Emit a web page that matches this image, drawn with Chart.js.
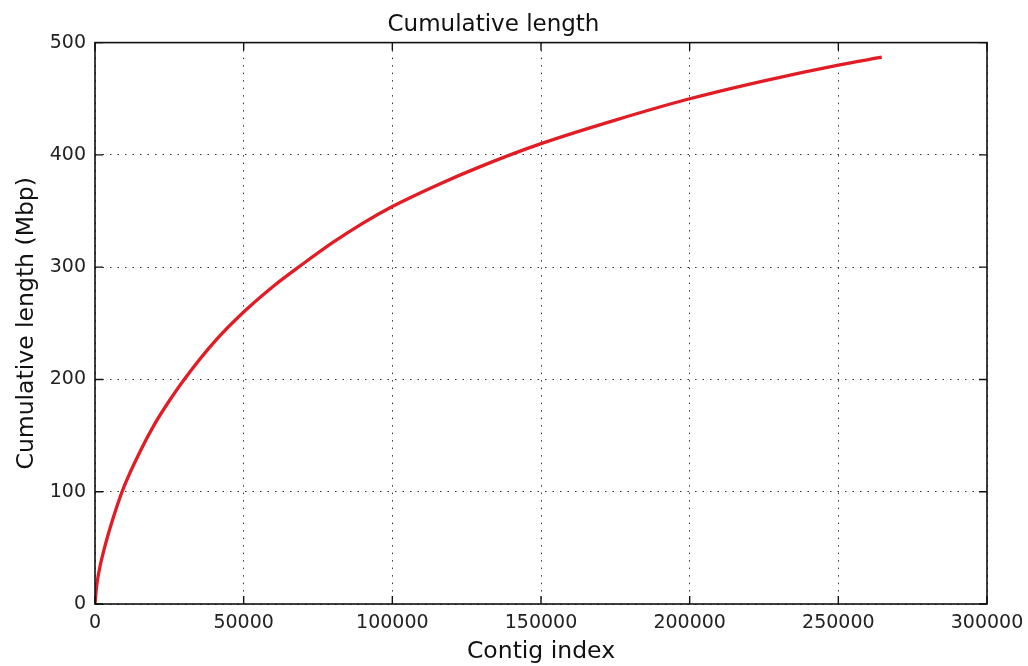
<!DOCTYPE html>
<html>
<head>
<meta charset="utf-8">
<title>Cumulative length</title>
<script src="https://cdn.jsdelivr.net/npm/chart.js@4.4.1/dist/chart.umd.min.js"></script>
<style>
  body { margin: 0; background: #fff; }
  #wrap { width: 1028px; height: 666px; }
</style>
</head>
<body>
<div id="wrap"><canvas id="chart" width="1028" height="666"></canvas></div>
<script>
// contig index (sorted by length) vs. cumulative assembly length in Mbp
const contigIndex = [0, 500, 1500, 3000, 5000, 7500, 10000, 15000, 20000, 25000, 30000, 40000, 50000,
  60000, 70000, 80000, 90000, 100000, 115000, 130000, 150000, 175000, 200000, 225000, 250000, 264600];
const cumulativeMbp = [0, 15, 31, 48, 67, 88, 106, 135, 160, 181, 200, 233, 260,
  283, 303, 322, 339, 354, 373, 390, 410, 431, 450, 466, 480, 487];
const xTicks = [0, 50000, 100000, 150000, 200000, 250000, 300000];
const yTicks = [0, 100, 200, 300, 400, 500];

const points = contigIndex.map(function (x, i) {
  return { x: x, y: cumulativeMbp[i] };
});

const tickFont = { family: "DejaVu Sans", size: 19 };
const labelFont = { family: "DejaVu Sans", size: 23.5 };

// black frame with inward tick marks on all four sides
const frame = {
  id: "frame",
  afterDraw: function (chart) {
    const ctx = chart.ctx;
    const a = chart.chartArea;
    const xs = chart.scales.x;
    const ys = chart.scales.y;
    const len = 8;
    ctx.save();
    ctx.strokeStyle = "#111";
    ctx.lineWidth = 1.4;
    ctx.beginPath();
    xTicks.forEach(function (v) {
      const px = xs.getPixelForValue(v);
      ctx.moveTo(px, a.bottom);
      ctx.lineTo(px, a.bottom - len);
      ctx.moveTo(px, a.top);
      ctx.lineTo(px, a.top + len);
    });
    yTicks.forEach(function (v) {
      const py = ys.getPixelForValue(v);
      ctx.moveTo(a.left, py);
      ctx.lineTo(a.left + len, py);
      ctx.moveTo(a.right, py);
      ctx.lineTo(a.right - len, py);
    });
    ctx.stroke();
    ctx.lineWidth = 1.6;
    ctx.strokeRect(a.left, a.top, a.right - a.left, a.bottom - a.top);
    ctx.restore();
  }
};

const ctx = document.getElementById("chart").getContext("2d");
const chart = new Chart(ctx, {
  type: "line",
  data: {
    datasets: [
      {
        label: "Cumulative length",
        data: points,
        borderColor: "rgb(225, 28, 36)",
        borderWidth: 3.3,
        pointRadius: 0,
        fill: false,
        cubicInterpolationMode: "monotone"
      }
    ]
  },
  options: {
    responsive: false,
    animation: false,
    layout: { padding: { left: 0, right: 41, top: 0, bottom: 0 } },
    plugins: {
      legend: { display: false },
      tooltip: { enabled: false },
      title: {
        display: true,
        text: "Cumulative length",
        color: "#111",
        font: { family: "DejaVu Sans", size: 23, weight: "normal" },
        padding: { top: 11, bottom: 4 }
      }
    },
    scales: {
      x: {
        type: "linear",
        min: 0,
        max: 300000,
        afterFit: function (scale) {
          scale.height = 62;
          // let the last label hang past the plot instead of shrinking it
          scale.paddingLeft = 0;
          scale.paddingRight = 0;
        },
        afterBuildTicks: function (scale) {
          scale.ticks = xTicks.map(function (v) { return { value: v }; });
        },
        ticks: {
          color: "#222",
          font: tickFont,
          padding: 8,
          maxRotation: 0,
          callback: function (v) { return String(v); }
        },
        grid: { color: "#333", lineWidth: 1, drawTicks: false },
        border: { display: false, dash: [1.5, 6] },
        title: {
          display: true,
          text: "Contig index",
          color: "#111",
          font: labelFont,
          padding: { top: 0, bottom: 0 }
        }
      },
      y: {
        min: 0,
        max: 500,
        afterFit: function (scale) { scale.width = 95; },
        afterBuildTicks: function (scale) {
          scale.ticks = yTicks.map(function (v) { return { value: v }; });
        },
        ticks: {
          color: "#222",
          font: tickFont,
          padding: 9
        },
        grid: { color: "#333", lineWidth: 1, drawTicks: false },
        border: { display: false, dash: [1.5, 6] },
        title: {
          display: true,
          text: "Cumulative length (Mbp)",
          color: "#111",
          font: labelFont,
          padding: { top: 13, bottom: 0 }
        }
      }
    }
  },
  plugins: [frame]
});
</script>
</body>
</html>
